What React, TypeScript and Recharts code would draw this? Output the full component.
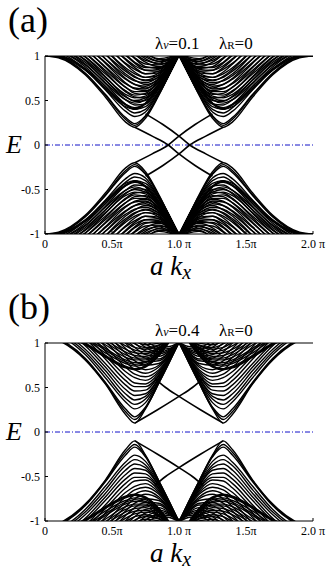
import React from 'react';
import { LineChart, Line, XAxis, YAxis, ReferenceLine } from 'recharts';

// k values (units of pi) at which the band curves were read (left valley, upper band)
const K_GRID = [0, 0.1, 0.3, 0.45, 0.6, 0.67, 0.75, 0.85, 0.93, 1.0];

// Panel (a): lambda_v = 0.1 — upper-left valley, small-gap subbands
const A_SMALL = [
  [1.0, 0.98, 0.79, 0.54, 0.26, 0.2, 0.3, 0.56, 0.8, 1.01],
  [1.01, 0.99, 0.8, 0.56, 0.29, 0.22, 0.32, 0.57, 0.8, 1.01],
  [1.02, 1.0, 0.81, 0.57, 0.31, 0.24, 0.33, 0.57, 0.8, 1.01],
  [1.06, 1.04, 0.85, 0.62, 0.38, 0.32, 0.37, 0.59, 0.8, 1.01],
  [1.09, 1.06, 0.88, 0.66, 0.42, 0.36, 0.4, 0.6, 0.81, 1.01],
  [1.12, 1.09, 0.91, 0.69, 0.46, 0.4, 0.43, 0.61, 0.81, 1.01],
  [1.15, 1.13, 0.95, 0.73, 0.51, 0.45, 0.46, 0.63, 0.82, 1.01],
  [1.19, 1.16, 0.99, 0.77, 0.55, 0.49, 0.5, 0.64, 0.82, 1.01],
  [1.23, 1.2, 1.03, 0.82, 0.6, 0.54, 0.53, 0.66, 0.83, 1.01],
  [1.27, 1.24, 1.08, 0.87, 0.65, 0.58, 0.57, 0.68, 0.84, 1.01],
  [1.32, 1.29, 1.12, 0.92, 0.7, 0.63, 0.61, 0.7, 0.84, 1.01],
  [1.36, 1.34, 1.17, 0.97, 0.75, 0.68, 0.64, 0.72, 0.85, 1.01],
  [1.41, 1.39, 1.22, 1.02, 0.8, 0.73, 0.68, 0.74, 0.86, 1.01],
  [1.46, 1.44, 1.27, 1.07, 0.85, 0.77, 0.72, 0.76, 0.87, 1.01],
  [1.51, 1.49, 1.33, 1.13, 0.91, 0.82, 0.76, 0.78, 0.88, 1.01],
  [1.57, 1.54, 1.38, 1.18, 0.96, 0.87, 0.8, 0.81, 0.89, 1.01],
  [1.62, 1.6, 1.44, 1.24, 1.01, 0.92, 0.84, 0.83, 0.9, 1.01],
  [1.68, 1.65, 1.49, 1.29, 1.06, 0.97, 0.88, 0.86, 0.91, 1.01],
  [1.73, 1.71, 1.55, 1.35, 1.12, 1.02, 0.93, 0.88, 0.92, 1.01],
  [1.79, 1.77, 1.61, 1.4, 1.17, 1.06, 0.97, 0.91, 0.93, 1.01],
  [1.85, 1.82, 1.66, 1.46, 1.22, 1.11, 1.01, 0.94, 0.95, 1.01],
  [1.9, 1.88, 1.71, 1.51, 1.26, 1.15, 1.04, 0.96, 0.96, 1.01],
];
// Panel (a): large-gap subbands
const A_LARGE = [
  [1.0, 0.99, 0.84, 0.63, 0.43, 0.4, 0.46, 0.65, 0.86, 1.05],
  [1.01, 1.0, 0.85, 0.64, 0.45, 0.41, 0.47, 0.66, 0.86, 1.05],
  [1.02, 1.01, 0.86, 0.66, 0.46, 0.42, 0.47, 0.66, 0.86, 1.05],
  [1.06, 1.05, 0.9, 0.7, 0.51, 0.47, 0.51, 0.67, 0.86, 1.05],
  [1.09, 1.08, 0.93, 0.73, 0.54, 0.5, 0.53, 0.68, 0.87, 1.05],
  [1.12, 1.1, 0.96, 0.76, 0.57, 0.53, 0.55, 0.69, 0.87, 1.05],
  [1.15, 1.14, 0.99, 0.8, 0.61, 0.56, 0.58, 0.71, 0.88, 1.05],
  [1.19, 1.17, 1.03, 0.84, 0.65, 0.6, 0.6, 0.72, 0.88, 1.05],
  [1.23, 1.21, 1.07, 0.88, 0.69, 0.64, 0.63, 0.74, 0.89, 1.05],
  [1.27, 1.25, 1.11, 0.93, 0.74, 0.68, 0.66, 0.75, 0.89, 1.05],
  [1.32, 1.3, 1.16, 0.97, 0.78, 0.72, 0.7, 0.77, 0.9, 1.05],
  [1.36, 1.35, 1.2, 1.02, 0.83, 0.76, 0.73, 0.79, 0.91, 1.05],
  [1.41, 1.4, 1.25, 1.07, 0.87, 0.8, 0.76, 0.81, 0.92, 1.05],
  [1.46, 1.45, 1.3, 1.12, 0.92, 0.85, 0.8, 0.83, 0.93, 1.05],
  [1.51, 1.5, 1.36, 1.17, 0.97, 0.89, 0.84, 0.85, 0.94, 1.05],
  [1.57, 1.55, 1.41, 1.22, 1.02, 0.93, 0.87, 0.87, 0.94, 1.05],
  [1.62, 1.61, 1.46, 1.28, 1.07, 0.98, 0.91, 0.9, 0.95, 1.05],
  [1.68, 1.66, 1.52, 1.33, 1.12, 1.03, 0.95, 0.92, 0.97, 1.05],
  [1.73, 1.72, 1.58, 1.39, 1.17, 1.07, 0.99, 0.94, 0.98, 1.05],
  [1.79, 1.78, 1.63, 1.44, 1.22, 1.12, 1.03, 0.97, 0.99, 1.05],
];

// Panel (b): lambda_v = 0.4 — small-gap subbands
const B_SMALL = [
  [1.08, 1.03, 0.81, 0.54, 0.2, 0.1, 0.26, 0.55, 0.79, 1.01],
  [1.09, 1.04, 0.82, 0.55, 0.23, 0.14, 0.27, 0.55, 0.79, 1.01],
  [1.1, 1.05, 0.83, 0.56, 0.26, 0.17, 0.28, 0.56, 0.8, 1.01],
  [1.13, 1.09, 0.87, 0.61, 0.34, 0.26, 0.33, 0.57, 0.8, 1.01],
  [1.16, 1.11, 0.9, 0.65, 0.38, 0.31, 0.37, 0.58, 0.81, 1.01],
  [1.18, 1.14, 0.93, 0.69, 0.43, 0.36, 0.4, 0.6, 0.81, 1.01],
  [1.22, 1.17, 0.97, 0.73, 0.48, 0.41, 0.43, 0.61, 0.81, 1.01],
  [1.25, 1.21, 1.0, 0.77, 0.53, 0.46, 0.47, 0.63, 0.82, 1.01],
  [1.29, 1.25, 1.05, 0.82, 0.58, 0.51, 0.51, 0.64, 0.83, 1.01],
  [1.33, 1.29, 1.09, 0.86, 0.63, 0.55, 0.54, 0.66, 0.83, 1.01],
  [1.37, 1.33, 1.14, 0.91, 0.68, 0.61, 0.58, 0.68, 0.84, 1.01],
  [1.41, 1.37, 1.18, 0.96, 0.73, 0.65, 0.62, 0.7, 0.85, 1.01],
  [1.46, 1.42, 1.24, 1.02, 0.79, 0.7, 0.66, 0.73, 0.86, 1.01],
  [1.51, 1.47, 1.28, 1.07, 0.84, 0.75, 0.7, 0.75, 0.87, 1.01],
  [1.56, 1.52, 1.34, 1.12, 0.89, 0.8, 0.75, 0.77, 0.88, 1.01],
  [1.61, 1.58, 1.39, 1.18, 0.94, 0.85, 0.79, 0.8, 0.89, 1.01],
  [1.67, 1.63, 1.45, 1.23, 1.0, 0.9, 0.83, 0.82, 0.9, 1.01],
  [1.72, 1.68, 1.5, 1.29, 1.05, 0.95, 0.87, 0.85, 0.91, 1.01],
  [1.78, 1.74, 1.56, 1.34, 1.1, 1.0, 0.91, 0.88, 0.92, 1.01],
  [1.83, 1.8, 1.62, 1.4, 1.16, 1.05, 0.95, 0.9, 0.93, 1.01],
  [1.89, 1.85, 1.67, 1.45, 1.21, 1.1, 0.99, 0.93, 0.94, 1.01],
  [1.94, 1.9, 1.72, 1.5, 1.25, 1.14, 1.03, 0.95, 0.96, 1.01],
];
// Panel (b): large-gap subbands
const B_LARGE = [
  [1.08, 1.08, 0.98, 0.84, 0.72, 0.7, 0.73, 0.86, 1.02, 1.18],
  [1.09, 1.09, 0.99, 0.85, 0.73, 0.71, 0.74, 0.86, 1.02, 1.18],
  [1.1, 1.1, 1.0, 0.86, 0.74, 0.71, 0.74, 0.87, 1.02, 1.18],
  [1.13, 1.14, 1.04, 0.89, 0.77, 0.74, 0.76, 0.88, 1.02, 1.18],
  [1.16, 1.16, 1.06, 0.92, 0.79, 0.76, 0.78, 0.89, 1.03, 1.18],
  [1.18, 1.19, 1.09, 0.94, 0.81, 0.78, 0.79, 0.89, 1.03, 1.18],
  [1.22, 1.22, 1.12, 0.98, 0.84, 0.81, 0.81, 0.9, 1.04, 1.18],
  [1.25, 1.25, 1.15, 1.01, 0.87, 0.83, 0.83, 0.91, 1.04, 1.18],
  [1.29, 1.29, 1.19, 1.04, 0.9, 0.86, 0.85, 0.93, 1.04, 1.18],
  [1.33, 1.33, 1.23, 1.08, 0.93, 0.89, 0.88, 0.94, 1.05, 1.18],
  [1.37, 1.37, 1.27, 1.12, 0.97, 0.92, 0.9, 0.95, 1.06, 1.18],
  [1.41, 1.42, 1.31, 1.16, 1.01, 0.95, 0.93, 0.97, 1.06, 1.18],
  [1.46, 1.46, 1.36, 1.21, 1.05, 0.99, 0.95, 0.98, 1.07, 1.18],
  [1.51, 1.51, 1.4, 1.25, 1.08, 1.02, 0.98, 1.0, 1.08, 1.18],
];

// Edge states: k values and energies
const EDGE_A_K = [
  [0.67, 0.8, 0.92, 1.0, 1.12, 1.25],
  [0.75, 0.88, 1.0, 1.08, 1.2, 1.33],
  [0.67, 0.8, 0.92, 1.0, 1.12, 1.25],
  [0.75, 0.88, 1.0, 1.08, 1.2, 1.33],
];
const EDGE_A_E = [
  [-0.2, -0.1, 0, 0.1, 0.23, 0.35],
  [0.35, 0.23, 0.1, 0, -0.1, -0.2],
  [0.2, 0.1, 0, -0.1, -0.23, -0.35],
  [-0.35, -0.23, -0.1, 0, 0.1, 0.2],
];
const EDGE_B_K = [
  [0.67, 0.84, 1.0, 1.1, 1.18],
  [0.82, 0.9, 1.0, 1.16, 1.33],
  [0.67, 0.84, 1.0, 1.1, 1.18],
  [0.82, 0.9, 1.0, 1.16, 1.33],
];
const EDGE_B_E = [
  [0.1, 0.25, 0.4, 0.5, 0.6],
  [0.6, 0.5, 0.4, 0.25, 0.1],
  [-0.1, -0.25, -0.4, -0.5, -0.6],
  [-0.6, -0.5, -0.4, -0.25, -0.1],
];

const X_TICKS = [0, 0.5, 1, 1.5, 2];
const X_LABELS = ['0', '0.5π', '1.0 π', '1.5π', '2.0 π'];
const Y_TICKS = [-1, -0.5, 0, 0.5, 1];
const Y_LABELS = ['-1', '-0.5', '0', '0.5', '1'];

const SERIF = '"Liberation Serif", "DejaVu Serif", serif';

const toPoints = (row: number[]) => row.map((e, i) => ({ k: K_GRID[i], e }));
const toEdge = (ks: number[], es: number[]) => ks.map((k, i) => ({ k, e: es[i] }));

const QUADS: [string, string][] = [
  ['n', 'n'],
  ['r', 'n'],
  ['n', 'r'],
  ['r', 'r'],
];

function YTick(props: any) {
  const { x, y, payload } = props;
  const idx = Y_TICKS.indexOf(payload.value);
  return (
    <g>
      <line x1={x} x2={x + 3} y1={y} y2={y} stroke="#000" strokeWidth={1} />
      <text x={x - 5} y={y + 4} textAnchor="end" fontSize={12} fontFamily={SERIF} fill="#000">
        {Y_LABELS[idx]}
      </text>
    </g>
  );
}

function RTick(props: any) {
  const { x, y } = props;
  return <line x1={x - 3} x2={x} y1={y} y2={y} stroke="#000" strokeWidth={1} />;
}

function XTick(props: any) {
  const { x, y, payload } = props;
  const idx = X_TICKS.indexOf(payload.value);
  return (
    <g>
      <line x1={x} x2={x} y1={y} y2={y - 3} stroke="#000" strokeWidth={1} />
      <text x={x} y={y + 14} textAnchor="middle" fontSize={12} fontFamily={SERIF} fill="#000">
        {X_LABELS[idx]}
      </text>
    </g>
  );
}

function Panel(props: {
  top: number;
  tag: string;
  lv: string;
  small: number[][];
  large: number[][];
  edgeK: number[][];
  edgeE: number[][];
}) {
  const { top, tag, lv, small, large, edgeK, edgeE } = props;
  const curves = [...small, ...large].map(toPoints);
  const edges = edgeK.map((ks, i) => toEdge(ks, edgeE[i]));
  return (
    <div style={{ position: 'absolute', left: 0, top, width: 327, height: 283 }}>
      <LineChart width={327} height={283} margin={{ top: 56, right: 13, bottom: 29, left: 0 }}>
        <XAxis
          xAxisId="n"
          type="number"
          dataKey="k"
          domain={[0, 2]}
          ticks={X_TICKS}
          interval={0}
          allowDataOverflow
          height={20}
          tickSize={0}
          tickMargin={0}
          tickLine={false}
          tick={(p: any) => <XTick {...p} />}
          axisLine={{ stroke: '#000', strokeWidth: 1 }}
        />
        <XAxis xAxisId="r" type="number" dataKey="k" domain={[0, 2]} reversed hide allowDataOverflow />
        <YAxis
          yAxisId="n"
          type="number"
          domain={[-1, 1]}
          ticks={Y_TICKS}
          interval={0}
          allowDataOverflow
          width={45}
          tickSize={0}
          tickMargin={0}
          tickLine={false}
          tick={(p: any) => <YTick {...p} />}
          axisLine={{ stroke: '#000', strokeWidth: 1 }}
        />
        <YAxis yAxisId="r" type="number" domain={[-1, 1]} reversed hide allowDataOverflow />
        <YAxis
          yAxisId="right"
          orientation="right"
          type="number"
          domain={[-1, 1]}
          ticks={Y_TICKS}
          interval={0}
          width={1}
          tickSize={0}
          tickMargin={0}
          tickLine={false}
          axisLine={false}
          tick={(p: any) => <RTick {...p} />}
        />
        <ReferenceLine xAxisId="n" yAxisId="n" y={1} stroke="#000" strokeWidth={1} />
        <ReferenceLine xAxisId="n" yAxisId="n" y={0} stroke="#1212c8" strokeWidth={1} strokeDasharray="5 2 1 2" />
        {QUADS.map(([xa, ya]) =>
          curves.map((pts, i) => (
            <Line
              key={`${xa}${ya}${i}`}
              xAxisId={xa}
              yAxisId={ya}
              data={pts}
              dataKey="e"
              type="monotone"
              stroke="#000"
              strokeWidth={1.4}
              dot={false}
              activeDot={false}
              isAnimationActive={false}
            />
          ))
        )}
        {edges.map((pts, i) => (
          <Line
            key={`edge${i}`}
            xAxisId="n"
            yAxisId="n"
            data={pts}
            dataKey="e"
            type="monotone"
            stroke="#000"
            strokeWidth={1.6}
            dot={false}
            activeDot={false}
            isAnimationActive={false}
          />
        ))}
      </LineChart>
      <div style={{ position: 'absolute', left: 8, top: 2, fontFamily: SERIF, fontSize: 36, lineHeight: '36px', color: '#000' }}>
        {tag}
      </div>
      <div style={{ position: 'absolute', left: 155, top: 34, fontFamily: SERIF, fontSize: 17, lineHeight: '20px', color: '#000', whiteSpace: 'nowrap' }}>
        λ<span style={{ fontSize: 12, fontStyle: 'italic' }}>v</span>={lv}
      </div>
      <div style={{ position: 'absolute', left: 219, top: 34, fontFamily: SERIF, fontSize: 17, lineHeight: '20px', color: '#000', whiteSpace: 'nowrap' }}>
        λ<span style={{ fontSize: 11 }}>R</span>=0
      </div>
      <div style={{ position: 'absolute', left: 6, top: 130, fontFamily: SERIF, fontSize: 26, fontStyle: 'italic', lineHeight: '30px', color: '#000' }}>
        E
      </div>
      <div style={{ position: 'absolute', left: 150, top: 254, fontFamily: SERIF, fontSize: 27, fontStyle: 'italic', lineHeight: '24px', color: '#000', whiteSpace: 'nowrap' }}>
        a k<span style={{ fontSize: 20, position: 'relative', top: 4 }}>x</span>
      </div>
    </div>
  );
}

export default function App() {
  return (
    <div style={{ position: 'absolute', left: 0, top: 0, width: 327, height: 570, background: '#fff' }}>
      <Panel top={0} tag="(a)" lv="0.1" small={A_SMALL} large={A_LARGE} edgeK={EDGE_A_K} edgeE={EDGE_A_E} />
      <Panel top={287} tag="(b)" lv="0.4" small={B_SMALL} large={B_LARGE} edgeK={EDGE_B_K} edgeE={EDGE_B_E} />
    </div>
  );
}
